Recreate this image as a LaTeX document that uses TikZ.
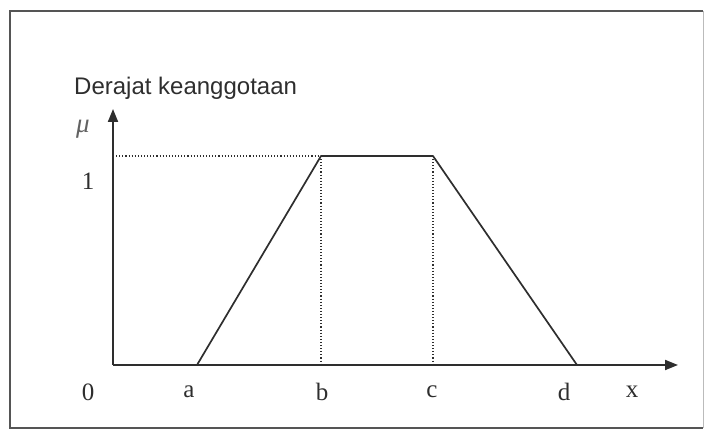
\documentclass[tikz,border=0pt]{standalone}
\usepackage{fontspec}
\setmainfont{Liberation Serif}
\newfontfamily\titlefont{Liberation Sans}
\usetikzlibrary{arrows.meta}
\definecolor{ink}{HTML}{2E2E2E}
\definecolor{frameink}{HTML}{555555}
\tikzset{
  axisline/.style={draw=ink, line width=1.9pt, -{Triangle[length=13pt,width=10pt]}},
  memline/.style={draw=ink, line width=1.7pt, line join=round},
  guide/.style={draw=ink, line width=1.1pt, dotted},
  lbl/.style={font=\fontsize{25}{27}\selectfont, text=ink, inner sep=0pt},
  ttl/.style={font=\titlefont\fontsize{24}{26}\selectfont, text=ink, inner sep=0pt, anchor=west},
}
\begin{document}
\begin{tikzpicture}[x=1pt,y=1pt]
\useasboundingbox (0,0) rectangle (705,431);
% frame
\draw[frameink, line width=2.2pt] (703,420) -- (10,420) -- (10,3) -- (703,3);
\draw[frameink!40, line width=1pt] (703,420) -- (703,3);
% coordinates
\coordinate (O) at (113,66);
\coordinate (Ytip) at (113,322);
\coordinate (Xtip) at (678,66);
\coordinate (A) at (197,66);
\coordinate (B) at (321,275);
\coordinate (C) at (433,275);
\coordinate (D) at (577,66);
\coordinate (Bx) at (321,66);
\coordinate (Cx) at (433,66);
\coordinate (Y1) at (113,275);
% guides
\draw[guide] (Y1) -- (B);
\draw[guide] (B) -- (Bx);
\draw[guide] (C) -- (Cx);
% axes
\draw[axisline] (O) -- (Ytip);
\draw[axisline] (O) -- (Xtip);
% membership
\draw[memline] (A) -- (B) -- (C) -- (D);
% labels
\node[ttl] (title) at (74,343) {Derajat keanggotaan};
\node[lbl, font=\fontsize{27}{29}\selectfont\itshape, text=ink!75] (mu) at (83,302) {μ};
\node[lbl] (one) at (88,250) {1};
\node[lbl] (zero) at (88,39) {0};
\node[lbl] (la) at (189,39) {a};
\node[lbl] (lb) at (322,39) {b};
\node[lbl] (lc) at (432,39) {c};
\node[lbl] (ld) at (564,39) {d};
\node[lbl] (lx) at (632,39) {x};
\end{tikzpicture}
\end{document}
